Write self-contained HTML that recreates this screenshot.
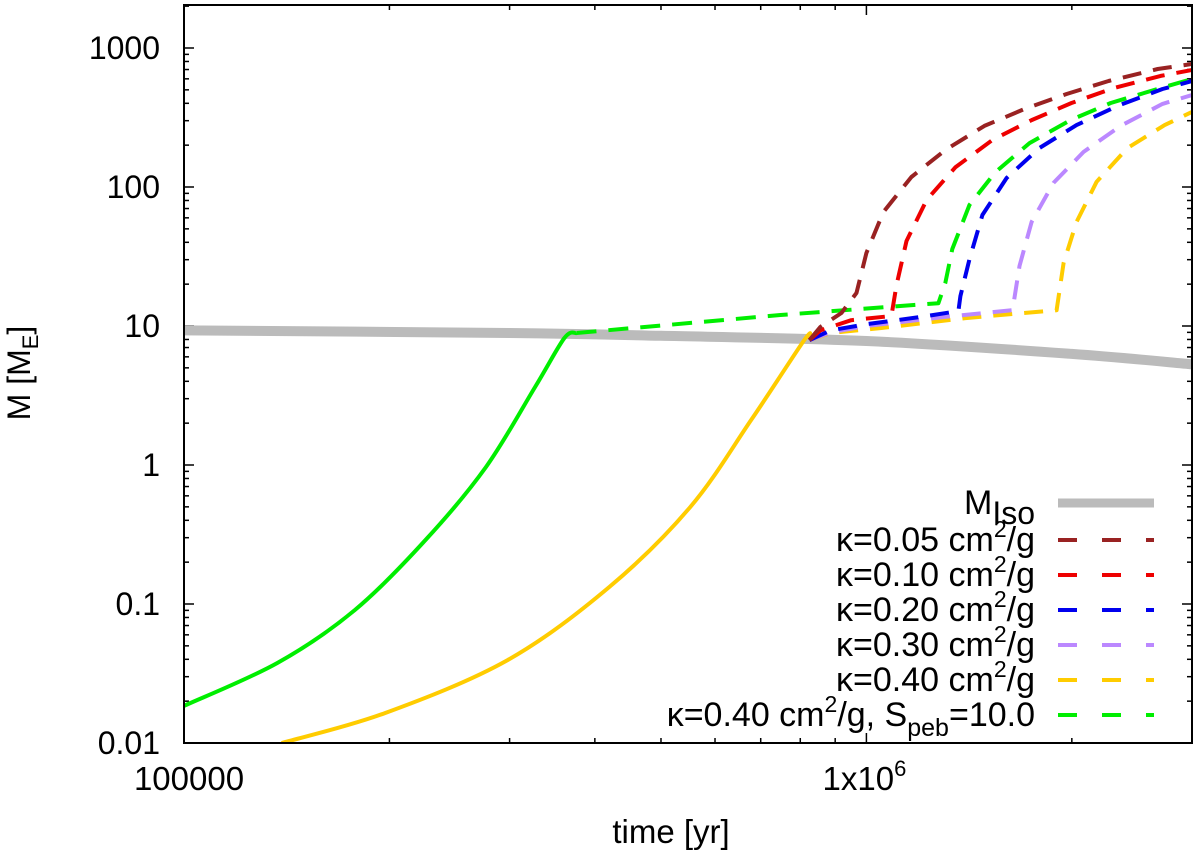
<!DOCTYPE html>
<html><head><meta charset="utf-8"><style>
html,body{margin:0;padding:0;background:#fff;}
svg text{font-family:"Liberation Sans",sans-serif;fill:#000;}
</style></head><body>
<svg id="chart" width="1200" height="856" viewBox="0 0 1200 856" xmlns="http://www.w3.org/2000/svg">
<defs><clipPath id="pc"><rect x="184" y="5" width="1008" height="738"/></clipPath></defs>
<g id="grid"></g>
<g id="series" clip-path="url(#pc)"></g>
<rect x="184" y="5" width="1008" height="738" fill="none" stroke="#000" stroke-width="2"/>
<g id="labels"></g>
<text x="671" y="843" font-size="33" text-anchor="middle">time [yr]</text>
<text transform="translate(30,373) rotate(-90)" font-size="32" text-anchor="middle">M [M<tspan font-size="22" dy="8">E</tspan><tspan dy="-8">]</tspan></text>
<g id="legend"></g>
</svg>
<script>
const xTicks=[1e5,1e6];
const xTickLabels=["100000","1x10^6"];
const yTicks=[0.01,0.1,1,10,100,1000];
const yTickLabels=["0.01","0.1","1","10","100","1000"];
const isoT=[1e5,3e5,5e5,1e6,2e6,3e6];
const isoM=[9.3,8.9,8.5,7.8,6.3,5.3];
const greenSolidT=[1e5,1.37e5,1.78e5,2.26e5,2.77e5,3.27e5,3.61e5,3.76e5];
const greenSolidM=[0.0185,0.0376,0.0906,0.289,0.968,3.64,8.2,8.9];
const yellowSolidT=[1.39e5,1.97e5,2.98e5,4.2e5,5.52e5,6.78e5,8.11e5,8.25e5];
const yellowSolidM=[0.01,0.0164,0.0395,0.1326,0.499,2.11,7.93,8.3];
const k005T=[8.25e5,8.56e5,9.19e5,9.67e5,1.0e6,1.059e6,1.164e6,1.306e6,1.489e6,1.705e6,1.965e6,2.264e6,2.672e6,3.0e6];
const k005M=[7.9,9.84,12.4,17.3,33.5,66.1,118,185,275,364,467,579,706,767];
const k010T=[8.25e5,8.56e5,9.5e5,1.088e6,1.107e6,1.145e6,1.225e6,1.351e6,1.53e6,1.746e6,1.998e6,2.302e6,2.699e6,3.0e6];
const k010M=[7.9,9.3,11,11.8,19.7,40.9,80.6,139,218,303,402,515,630,695];
const k020T=[8.25e5,8.86e5,1.0e6,1.2e6,1.364e6,1.373e6,1.416e6,1.479e6,1.605e6,1.794e6,2.032e6,2.334e6,2.716e6,3.0e6];
const k020M=[7.9,9.3,10.3,11.6,12.8,16.4,30.3,62.9,116,191,279,383,507,579];
const k030T=[8.25e5,8.86e5,1.0e6,1.3e6,1.637e6,1.676e6,1.746e6,1.88e6,2.081e6,2.358e6,2.716e6,3.0e6];
const k030M=[7.9,9.0,10.0,11.6,13.0,27.0,56.0,107,179,275,396,459];
const k040T=[8.25e5,8.86e5,1.052e6,1.397e6,1.9e6,1.945e6,2.032e6,2.174e6,2.414e6,2.735e6,3.0e6];
const k040M=[7.9,8.9,9.68,11.4,13.0,28.4,56.0,109,191,279,347];
const speedT=[3.76e5,7.48e5,1.275e6,1.305e6,1.336e6,1.416e6,1.546e6,1.734e6,1.991e6,2.28e6,2.67e6,3.0e6];
const speedM=[8.9,12.0,14.6,20.4,35.8,74.3,128,207,303,402,507,598];

const NS="http://www.w3.org/2000/svg";
const X0=184,X1=1192,Y0=743,Y1=5;
const xmin=5,xmax=Math.log10(3e6);
const ymin=-2,ymax=Math.log10(0.01)+(743-5)/139;
function sx(t){return X0+(Math.log10(t)-xmin)/(xmax-xmin)*(X1-X0);}
function sy(m){return Y0-(Math.log10(m)-ymin)/(ymax-ymin)*(Y0-Y1);}
function mk(tag,attrs,parent){const e=document.createElementNS(NS,tag);for(const k in attrs)e.setAttribute(k,attrs[k]);parent.appendChild(e);return e;}
const grid=document.getElementById('grid'),labels=document.getElementById('labels'),series=document.getElementById('series'),legend=document.getElementById('legend');
for(let d=5;d<=6;d++){for(let k=1;k<=9;k++){const t=k*Math.pow(10,d);if(t>3e6)break;const x=sx(t);const L=k===1?10:5;
 const a=mk('line',{x1:x,x2:x,y1:Y0,y2:Y0-L,stroke:'#000','stroke-width':1.5},grid);
 
 
 const b=mk('line',{x1:x,x2:x,y1:Y1,y2:Y1+L,stroke:'#000','stroke-width':1.5},grid);
 
 }}
for(let d=-2;d<=3;d++){for(let k=1;k<=9;k++){const m=k*Math.pow(10,d);if(Math.log10(m)>ymax)break;const y=sy(m);const L=k===1?10:5;
 const a=mk('line',{x1:X0,x2:X0+L,y1:y,y2:y,stroke:'#000','stroke-width':1.5},grid);
 
 
 const b=mk('line',{x1:X1,x2:X1-L,y1:y,y2:y,stroke:'#000','stroke-width':1.5},grid);
 
 }}
xTicks.forEach((t,i)=>{const cx=sx(t)+(i===0?5:-2);const e=mk('text',{x:cx,y:790,'font-size':33,'text-anchor':'middle'},labels);
 
 
 const s=xTickLabels[i];
 if(s.indexOf('^')>=0){const p=s.split('^');e.textContent=p[0];const ts=mk('tspan',{dy:-14,'font-size':22},e);ts.textContent=p[1];}
 else e.textContent=s;});
yTicks.forEach((m,i)=>{const e=mk('text',{x:160,y:sy(m)+11,'font-size':32,'text-anchor':'end'},labels);
 
 
 e.textContent=yTickLabels[i];});
function path(T,M){return T.map((t,i)=>(i?'L':'M')+sx(t).toFixed(1)+','+sy(M[i]).toFixed(1)).join(' ');}
function smooth(T,M){const P=T.map((t,i)=>[sx(t),sy(M[i])]);let d='M'+P[0][0].toFixed(1)+','+P[0][1].toFixed(1);
 for(let i=0;i<P.length-1;i++){const p0=P[Math.max(0,i-1)],p1=P[i],p2=P[i+1],p3=P[Math.min(P.length-1,i+2)];
  const c1=[p1[0]+(p2[0]-p0[0])/6,p1[1]+(p2[1]-p0[1])/6],c2=[p2[0]-(p3[0]-p1[0])/6,p2[1]-(p3[1]-p1[1])/6];
  d+=' C'+c1[0].toFixed(1)+','+c1[1].toFixed(1)+' '+c2[0].toFixed(1)+','+c2[1].toFixed(1)+' '+p2[0].toFixed(1)+','+p2[1].toFixed(1);}
 return d;}
function line(T,M,color,w,dash,name,sm){const p=mk('path',{d:sm?smooth(T,M):path(T,M),fill:'none',stroke:color,'stroke-width':w,'stroke-linejoin':'round'},series);
 if(dash)p.setAttribute('stroke-dasharray',dash);
 
 }
line(isoT,isoM,'#bbbbbb',10,null,'m-iso-line',true);
line(greenSolidT,greenSolidM,'#00ee00',4,null,'green-solid-line',true);
line(yellowSolidT,yellowSolidM,'#ffcc00',4,null,'yellow-solid-line',true);
line(speedT,speedM,'#00ee00',4,'20,12','kappa-040-speb-line',false);
line(k040T,k040M,'#ffcc00',4,'19,12','kappa-040-line',false);
line(k030T,k030M,'#bb88ff',4,'19,12','kappa-030-line',false);
line(k020T,k020M,'#0000ee',4,'19,12','kappa-020-line',false);
line(k010T,k010M,'#ee0000',4,'19,12','kappa-010-line',false);
line(k005T,k005M,'#992222',4,'19,12','kappa-005-line',false);
const legY=[503,540,575,610,645,680,715];
const legCol=['#bbbbbb','#992222','#ee0000','#0000ee','#bb88ff','#ffcc00','#00ee00'];
const legLbl=['iso','0.05','0.10','0.20','0.30','0.40','peb'];
legY.forEach((y,i)=>{
 const g=mk('g',{},legend);
 
 
 const t=mk('text',{x:1035,y:y+11,'font-size':34,'text-anchor':'end'},g);
 if(i===0){t.textContent='M';const s=mk('tspan',{dy:10,'font-size':32},t);s.textContent='Iso';}
 else if(i===6){t.textContent='\u03BA=0.40 cm';const s=mk('tspan',{dy:-14,'font-size':23},t);s.textContent='2';const s2=mk('tspan',{dy:14},t);s2.textContent='/g, S';const s3=mk('tspan',{dy:10,'font-size':25},t);s3.textContent='peb';const s4=mk('tspan',{dy:-10},t);s4.textContent='=10.0';}
 else{t.textContent='\u03BA='+legLbl[i]+' cm';const s=mk('tspan',{dy:-14,'font-size':23},t);s.textContent='2';const s2=mk('tspan',{dy:14},t);s2.textContent='/g';}
 const l=mk('line',{x1:1058,x2:1154,y1:y,y2:y,stroke:legCol[i],'stroke-width':i===0?9:4},g);
 if(i>0)l.setAttribute('stroke-dasharray','19,25');
});
</script>
</body></html>
